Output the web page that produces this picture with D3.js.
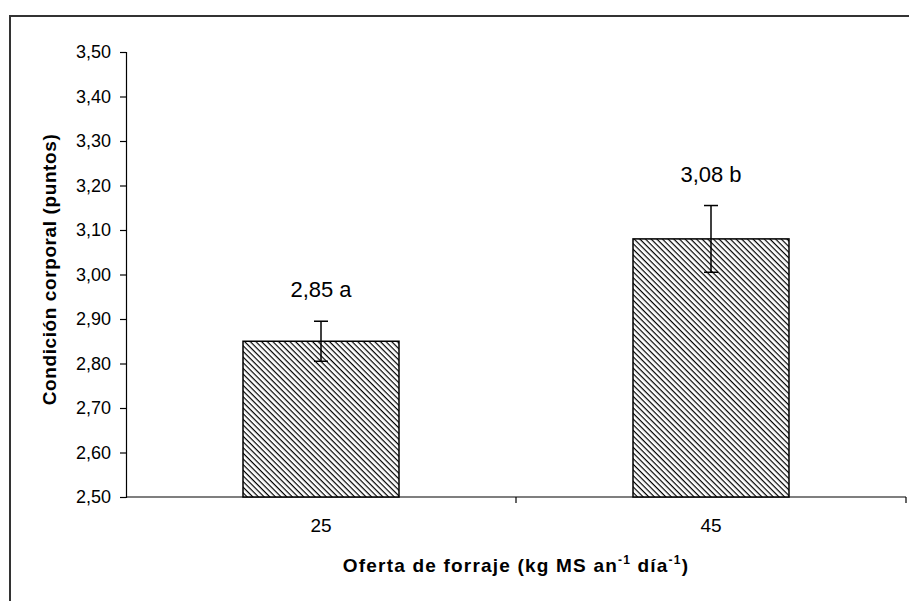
<!DOCTYPE html>
<html>
<head>
<meta charset="utf-8">
<script src="https://cdn.jsdelivr.net/npm/d3@7"></script>
<style>
  body { margin: 0; background: #fff; }
  svg { display: block; font-family: Arial, 'Liberation Sans', sans-serif; }
</style>
</head>
<body>
<svg id="chart" width="909" height="601"></svg>
<script>
// datos del gráfico
var categories = ['25', '45'];
var values = [2.85, 3.08];
var errors = [0.045, 0.075];
var labels = ['2,85 a', '3,08 b'];
var yTicks = [2.5, 2.6, 2.7, 2.8, 2.9, 3.0, 3.1, 3.2, 3.3, 3.4, 3.5];

var svg = d3.select('#chart');
var plotLeft = 126, plotRight = 906, plotTop = 52, plotBottom = 497;

// marco exterior
svg.append('rect')
    .attr('x', 10).attr('y', 16)
    .attr('width', 920).attr('height', 620)
    .attr('fill', 'none')
    .attr('stroke', '#333')
    .attr('stroke-width', 2);

// trama diagonal de las barras (\\\)
var pat = svg.append('defs').append('pattern')
    .attr('id', 'hatch')
    .attr('patternUnits', 'userSpaceOnUse')
    .attr('width', 4).attr('height', 4)
    .attr('patternTransform', 'rotate(45)');
pat.append('rect').attr('width', 4).attr('height', 4).attr('fill', '#fff');
pat.append('line')
    .attr('x1', 0).attr('y1', 0).attr('x2', 4).attr('y2', 0)
    .attr('stroke', '#000').attr('stroke-width', 2.4);

var x = d3.scaleBand().domain(categories).range([plotLeft, plotRight]).paddingInner(0.6).paddingOuter(0.3);
var xb = d3.scaleBand().domain(categories).range([plotLeft, plotRight]);
var y = d3.scaleLinear().domain([2.5, 3.5]).range([plotBottom, plotTop]);

var fmt = function (d) { return d.toFixed(2).replace('.', ','); };

// eje Y
var yAxis = svg.append('g')
    .attr('transform', 'translate(' + plotLeft + ',0)')
    .call(d3.axisLeft(y).tickValues(yTicks).tickFormat(fmt).tickSize(6).tickPadding(9));
yAxis.select('.domain').attr('stroke', '#000').attr('stroke-width', 1.2);
yAxis.selectAll('.tick line').attr('stroke', '#000').attr('stroke-width', 1.2);
yAxis.selectAll('.tick text')
    .attr('font-size', 18).attr('fill', '#000')
    .attr('font-family', 'Arial, "Liberation Sans", sans-serif');

// eje X (marcas entre categorías)
svg.append('line')
    .attr('x1', plotLeft).attr('x2', plotRight)
    .attr('y1', plotBottom).attr('y2', plotBottom)
    .attr('stroke', '#000').attr('stroke-width', 1.2);
svg.selectAll('.xtick')
    .data(categories)
    .enter().append('line')
    .attr('class', 'xtick')
    .attr('x1', function (d) { return xb(d) + xb.bandwidth(); })
    .attr('x2', function (d) { return xb(d) + xb.bandwidth(); })
    .attr('y1', plotBottom).attr('y2', plotBottom + 6)
    .attr('stroke', '#000').attr('stroke-width', 1.2);
svg.selectAll('.xlabel')
    .data(categories)
    .enter().append('text')
    .attr('class', 'xlabel')
    .attr('x', function (d) { return xb(d) + xb.bandwidth() / 2; })
    .attr('y', 532)
    .attr('text-anchor', 'middle')
    .attr('font-size', 19)
    .text(function (d) { return d; });

// barras
svg.selectAll('.bar')
    .data(values)
    .enter().append('rect')
    .attr('class', 'bar')
    .attr('x', function (d, i) { return x(categories[i]); })
    .attr('y', function (d) { return y(d); })
    .attr('width', x.bandwidth())
    .attr('height', function (d) { return plotBottom - y(d); })
    .attr('fill', 'url(#hatch)')
    .attr('stroke', '#000')
    .attr('stroke-width', 1.5);

// barras de error
var eb = svg.selectAll('.err')
    .data(values)
    .enter().append('g')
    .attr('class', 'err')
    .attr('transform', function (d, i) { return 'translate(' + (x(categories[i]) + x.bandwidth() / 2) + ',0)'; });
eb.append('line')
    .attr('y1', function (d, i) { return y(d + errors[i]); })
    .attr('y2', function (d, i) { return y(d - errors[i]); })
    .attr('stroke', '#000').attr('stroke-width', 1.5);
eb.append('line')
    .attr('x1', -7).attr('x2', 7)
    .attr('y1', function (d, i) { return y(d + errors[i]); })
    .attr('y2', function (d, i) { return y(d + errors[i]); })
    .attr('stroke', '#000').attr('stroke-width', 1.5);
eb.append('line')
    .attr('x1', -7).attr('x2', 7)
    .attr('y1', function (d, i) { return y(d - errors[i]); })
    .attr('y2', function (d, i) { return y(d - errors[i]); })
    .attr('stroke', '#000').attr('stroke-width', 1.5);

// etiquetas de valor
svg.selectAll('.vlabel')
    .data(values)
    .enter().append('text')
    .attr('class', 'vlabel')
    .attr('x', function (d, i) { return x(categories[i]) + x.bandwidth() / 2; })
    .attr('y', function (d, i) { return y(d + errors[i]) - 24; })
    .attr('text-anchor', 'middle')
    .attr('font-size', 22)
    .text(function (d, i) { return labels[i]; });

// títulos de los ejes
var xt = svg.append('text')
    .attr('x', (plotLeft + plotRight) / 2)
    .attr('y', 572)
    .attr('text-anchor', 'middle')
    .attr('font-size', 19)
    .attr('letter-spacing', 1.2)
    .attr('font-weight', 'bold');
xt.append('tspan').text('Oferta de forraje (kg MS an');
xt.append('tspan').attr('dy', -8).attr('font-size', 12).text('-1');
xt.append('tspan').attr('dy', 8).text(' día');
xt.append('tspan').attr('dy', -8).attr('font-size', 12).text('-1');
xt.append('tspan').attr('dy', 8).text(')');

svg.append('text')
    .attr('transform', 'translate(49,' + ((plotTop + plotBottom) / 2 - 5) + ') rotate(-90)')
    .attr('dy', '0.35em')
    .attr('text-anchor', 'middle')
    .attr('font-size', 19)
    .attr('letter-spacing', 0.6)
    .attr('font-weight', 'bold')
    .text('Condición corporal (puntos)');
</script>
</body>
</html>
